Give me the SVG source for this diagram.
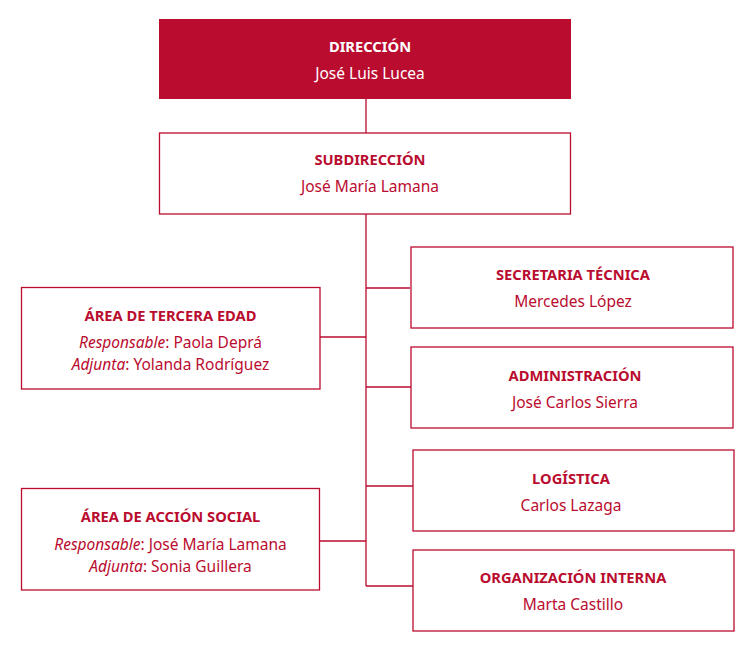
<svg xmlns="http://www.w3.org/2000/svg" width="747" height="648" viewBox="0 0 747 648">
<style>
.box{fill:#ffffff;stroke:#BA0C2F;stroke-width:1.3}
.top{fill:#BA0C2F}
.ln{stroke:#BA0C2F;stroke-width:1.3;fill:none}
text{font-family:"Noto Sans","Open Sans","DejaVu Sans",sans-serif;font-size:15.5px;fill:#BA0C2F;text-anchor:middle}
.t{font-weight:bold;font-size:14.7px}
.w{fill:#ffffff}
.i{font-style:italic}
</style>
<rect width="747" height="648" fill="#ffffff"/>
<g id="connectors">
<path class="ln" d="M366 99V133M366 214V586M366 288H410M366 387H411M366 486H413M366 586H413M320 337H366M320 541H366"/>
</g>
<g id="direccion">
<rect class="top" x="159" y="19" width="412" height="80"/>
<text class="t w" x="370" y="52">DIRECCIÓN</text>
<text class="w" x="370" y="79">José Luis Lucea</text>
</g>
<g id="subdireccion">
<rect class="box" x="159.5" y="133" width="411" height="81"/>
<text class="t" x="370" y="165">SUBDIRECCIÓN</text>
<text x="370" y="192">José María Lamana</text>
</g>
<g id="secretaria">
<rect class="box" x="411" y="247" width="322" height="81"/>
<text class="t" x="573" y="280">SECRETARIA TÉCNICA</text>
<text x="573" y="307">Mercedes López</text>
</g>
<g id="administracion">
<rect class="box" x="411" y="347" width="322" height="81"/>
<text class="t" x="575" y="381">ADMINISTRACIÓN</text>
<text x="575" y="408">José Carlos Sierra</text>
</g>
<g id="logistica">
<rect class="box" x="413" y="450" width="321" height="81"/>
<text class="t" x="571" y="484">LOGÍSTICA</text>
<text x="571" y="511">Carlos Lazaga</text>
</g>
<g id="organizacion">
<rect class="box" x="413" y="550" width="321" height="81"/>
<text class="t" x="573" y="583">ORGANIZACIÓN INTERNA</text>
<text x="573" y="610">Marta Castillo</text>
</g>
<g id="tercera-edad">
<rect class="box" x="21.5" y="287.5" width="298.5" height="101.5"/>
<text class="t" x="170.5" y="321">ÁREA DE TERCERA EDAD</text>
<text x="170.5" y="348"><tspan class="i">Responsable</tspan>: Paola Deprá</text>
<text x="170.5" y="370"><tspan class="i">Adjunta</tspan>: Yolanda Rodríguez</text>
</g>
<g id="accion-social">
<rect class="box" x="21.5" y="488.5" width="298" height="101.5"/>
<text class="t" x="170.5" y="522">ÁREA DE ACCIÓN SOCIAL</text>
<text x="170.5" y="550"><tspan class="i">Responsable</tspan>: José María Lamana</text>
<text x="170.5" y="572"><tspan class="i">Adjunta</tspan>: Sonia Guillera</text>
</g>
</svg>
